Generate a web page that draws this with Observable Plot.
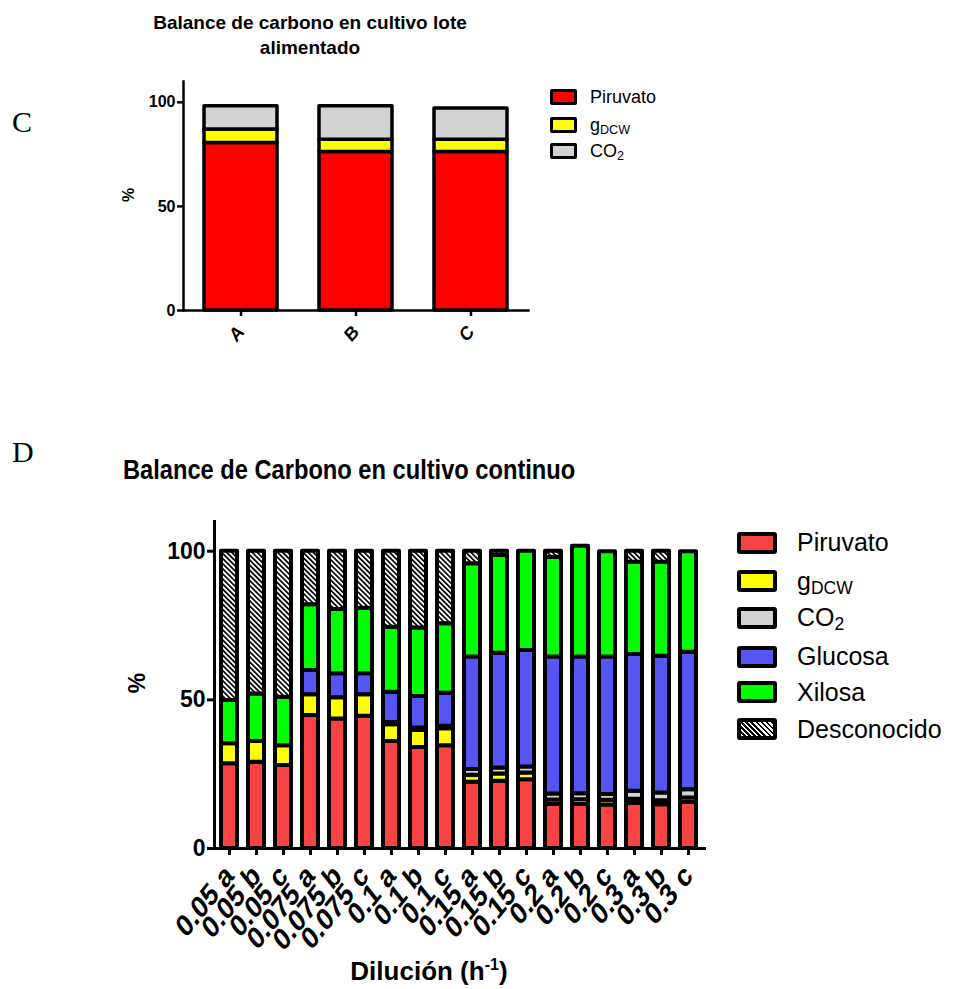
<!DOCTYPE html>
<html>
<head>
<meta charset="utf-8">
<script src="https://cdn.jsdelivr.net/npm/d3@7"></script>
<script src="https://cdn.jsdelivr.net/npm/@observablehq/plot@0.6"></script>
<style>
  html, body { margin: 0; padding: 0; background: white; }
  #page { position: relative; width: 954px; height: 989px; background: white; overflow: hidden;
          font-family: "Liberation Sans", Arial, sans-serif; color: black; }
  .abs { position: absolute; white-space: nowrap; }
  .panel { font-family: "Liberation Serif", "Times New Roman", serif; font-size: 30px; line-height: 30px; }
  .legend-row { position: absolute; display: flex; align-items: center; white-space: nowrap; }
  .sw { box-sizing: border-box; border: solid black; flex: none; }
  sub { font-size: 70%; vertical-align: -0.25em; line-height: 0; }
  sup { font-size: 62%; vertical-align: 0.6em; line-height: 0; }
</style>
</head>
<body>
<div id="page"></div>
<script>
// ---------- Data: panel C (fed-batch) ----------
const catsC = ["A", "B", "C"];
const seriesC = ["Piruvato", "gDCW", "CO2"];
const piruvatoC = [80.4, 76.1, 76.1];
const gdcwC     = [6.5, 5.9, 5.9];
const co2C      = [11.2, 16.1, 15.0];
const colorsC = ["#FF0000", "#FFFF00", "#D3D3D3"];

// ---------- Data: panel D (continuous) ----------
const catsD = ["0.05 a","0.05 b","0.05 c","0.075 a","0.075 b","0.075 c","0.1 a","0.1 b","0.1 c",
               "0.15 a","0.15 b","0.15 c","0.2 a","0.2 b","0.2 c","0.3 a","0.3 b","0.3 c"];
const seriesD = ["Piruvato", "gDCW", "CO2", "Glucosa", "Xilosa", "Desconocido"];
const piruvatoD    = [28.5, 29.0, 27.9, 44.7, 43.6, 44.5, 36.0, 34.0, 34.6, 22.3, 22.6, 23.1, 14.8, 14.8, 14.6, 15.2, 14.7, 15.5];
const gdcwD        = [6.7, 7.0, 6.7, 7.0, 7.1, 7.2, 5.6, 5.7, 5.7, 2.3, 2.5, 2.3, 1.5, 1.6, 1.6, 1.4, 1.4, 1.5];
const co2D         = [0, 0, 0, 0, 0, 0, 0.8, 0.8, 0.8, 2.0, 2.0, 2.0, 2.0, 2.0, 2.0, 2.7, 2.6, 2.8];
const glucosaD     = [0, 0, 0, 8.2, 8.1, 7.1, 10.2, 10.6, 11.1, 37.8, 38.6, 39.2, 46.1, 46.0, 46.2, 46.0, 46.0, 46.2];
const xilosaD      = [14.6, 16.0, 16.3, 22.1, 21.6, 22.0, 21.8, 23.1, 23.4, 31.4, 32.9, 33.4, 33.6, 37.3, 35.4, 31.0, 31.6, 33.8];
const desconocidoD = [50.2, 48.0, 49.1, 18.0, 19.6, 19.2, 25.6, 25.8, 24.4, 4.2, 1.4, 0, 2.0, 0, 0, 3.7, 3.7, 0];
const colorsD = ["#F84343", "#FFFF00", "#D3D3D3", "#5555F2", "#00FF00", "url(#hatchD)"];

const yTicks = [0, 50, 100];

// ---------- Build long tables ----------
function longTable(cats, series, valueArrays) {
  const rows = [];
  series.forEach((s, si) => cats.forEach((c, ci) => {
    const v = valueArrays[si][ci];
    if (v > 0) rows.push({cat: c, serie: s, value: v});
  }));
  return rows;
}
const dataC = longTable(catsC, seriesC, [piruvatoC, gdcwC, co2C]);
const dataD = longTable(catsD, seriesD, [piruvatoD, gdcwD, co2D, glucosaD, xilosaD, desconocidoD]);

const page = document.getElementById("page");
function addDiv(html, css, cls) {
  const d = document.createElement("div");
  d.className = "abs" + (cls ? " " + cls : "");
  d.innerHTML = html;
  Object.assign(d.style, css);
  page.appendChild(d);
  return d;
}
const FONT = "'Liberation Sans', Arial, sans-serif";

// stretch the rotated x tick labels vertically a little (the original figure is taller than wide)
function stretchXLabels(svg, sy) {
  d3.select(svg).selectAll('g[aria-label="x-axis tick label"] text').each(function() {
    const t = this.getAttribute("transform") || "";
    if (t.includes("rotate(")) this.setAttribute("transform", t.replace("rotate(", `scale(1,${sy}) rotate(`));
  });
}

// ---------- Panel C plot ----------
const plotC = Plot.plot({
  width: 540, height: 300,
  marginLeft: 183, marginRight: 12, marginTop: 21, marginBottom: 50,
  x: {domain: catsC, paddingInner: 0.365, paddingOuter: 0.18, label: null},
  y: {domain: [0, 110], label: null},
  color: {domain: seriesC, range: colorsC},
  style: {fontFamily: FONT, fontWeight: "bold", fontSize: "16px", background: "transparent", overflow: "visible"},
  marks: [
    Plot.barY(dataC, {x: "cat", y: "value", fill: "serie", z: "serie", order: seriesC,
      stroke: "black", strokeWidth: 3.5, strokeLinejoin: "round", inset: 0}),
    Plot.axisY({ticks: yTicks, tickSize: 6, tickPadding: 2, strokeWidth: 2.5, fontSize: 16, label: null}),
    Plot.axisX({tickSize: 6, tickPadding: 12, tickRotate: -45, strokeWidth: 2.5, fontSize: 17, label: null}),
    Plot.frame({anchor: "left", strokeWidth: 2.5}),
    Plot.frame({anchor: "bottom", strokeWidth: 2.5})
  ]
});
stretchXLabels(plotC, 1.15);
plotC.style.position = "absolute";
plotC.style.left = "0px";
plotC.style.top = "60px";
page.appendChild(plotC);

// ---------- Panel D plot ----------
const plotD = Plot.plot({
  width: 712, height: 443,
  marginLeft: 214, marginRight: 8, marginTop: 21, marginBottom: 95,
  x: {domain: catsD, paddingInner: 0.4, paddingOuter: 0.2, label: null},
  y: {domain: [0, 110], label: null},
  color: {domain: seriesD, range: colorsD},
  style: {fontFamily: FONT, fontWeight: "bold", fontSize: "23px", background: "transparent", overflow: "visible"},
  marks: [
    Plot.barY(dataD, {x: "cat", y: "value", fill: "serie", z: "serie", order: seriesD,
      stroke: "black", strokeWidth: 4, strokeLinejoin: "round", inset: 0}),
    Plot.axisY({ticks: yTicks, tickSize: 7, tickPadding: 2, strokeWidth: 3, fontSize: 23, label: null}),
    Plot.axisX({tickSize: 7, tickPadding: 15, tickRotate: -45, strokeWidth: 3, fontSize: 25, label: null}),
    Plot.frame({anchor: "left", strokeWidth: 3}),
    Plot.frame({anchor: "bottom", strokeWidth: 3})
  ]
});
stretchXLabels(plotD, 1.25);
// hatch pattern for "Desconocido"
const defs = d3.select(plotD).insert("defs", ":first-child");
const pat = defs.append("pattern").attr("id", "hatchD").attr("patternUnits", "userSpaceOnUse")
  .attr("width", 3.6).attr("height", 3.6).attr("patternTransform", "rotate(-45)");
pat.append("rect").attr("width", 3.6).attr("height", 3.6).attr("fill", "white");
pat.append("rect").attr("width", 1.7).attr("height", 3.6).attr("fill", "black");
plotD.style.position = "absolute";
plotD.style.left = "0px";
plotD.style.top = "500px";
page.appendChild(plotD);

// ---------- Texts ----------
addDiv("C", {left: "12px", top: "107px"}, "panel");
addDiv("D", {left: "12px", top: "437px"}, "panel");

addDiv("Balance de carbono en cultivo lote<br>alimentado",
  {left: "110px", top: "10px", width: "400px", textAlign: "center", fontSize: "19px", lineHeight: "25px", fontWeight: "bold", whiteSpace: "normal"});

addDiv("Balance de Carbono en cultivo continuo",
  {left: "123px", top: "456px", fontSize: "28px", lineHeight: "28px", fontWeight: "bold", transform: "scaleX(0.845)", transformOrigin: "0 0"});

// y labels
addDiv("%", {left: "129px", top: "195px", fontSize: "16px", fontWeight: "bold", transform: "translate(-50%,-50%) rotate(-90deg)"});
addDiv("%", {left: "137px", top: "683px", fontSize: "23px", fontWeight: "bold", transform: "translate(-50%,-50%) rotate(-90deg)"});

// x label D
addDiv("Dilución (h<sup>-1</sup>)", {left: "429px", top: "958px", fontSize: "26px", lineHeight: "26px", fontWeight: "bold", transform: "translateX(-50%)"});

// ---------- Legends ----------
const labelsHTML = {
  "Piruvato": "Piruvato",
  "gDCW": "g<sub>DCW</sub>",
  "CO2": "CO<sub>2</sub>",
  "Glucosa": "Glucosa",
  "Xilosa": "Xilosa",
  "Desconocido": "Desconocido"
};
function swatchBg(c) {
  return c.startsWith("url(") ?
    "repeating-linear-gradient(45deg, white 0px, white 1.8px, black 1.8px, black 3.6px)" : c;
}
const legendCy = [97, 125, 151];
seriesC.forEach((s, i) => {
  const row = document.createElement("div");
  row.className = "legend-row";
  Object.assign(row.style, {left: "550px", top: (legendCy[i] - 9) + "px", height: "18px", fontSize: "18px"});
  row.innerHTML = `<div class="sw" style="width:27px;height:16px;border-width:3px;border-radius:2px;background:${swatchBg(colorsC[i])}"></div><span style="margin-left:13px">${labelsHTML[s]}</span>`;
  page.appendChild(row);
});
const legendDy = [542.5, 581, 617.5, 656.5, 692, 729];
seriesD.forEach((s, i) => {
  const row = document.createElement("div");
  row.className = "legend-row";
  Object.assign(row.style, {left: "737px", top: (legendDy[i] - 13) + "px", height: "26px", fontSize: "25px"});
  row.innerHTML = `<div class="sw" style="width:40px;height:22px;border-width:4px;border-radius:3px;background:${swatchBg(colorsD[i])}"></div><span style="margin-left:20px">${labelsHTML[s]}</span>`;
  page.appendChild(row);
});
</script>
</body>
</html>
